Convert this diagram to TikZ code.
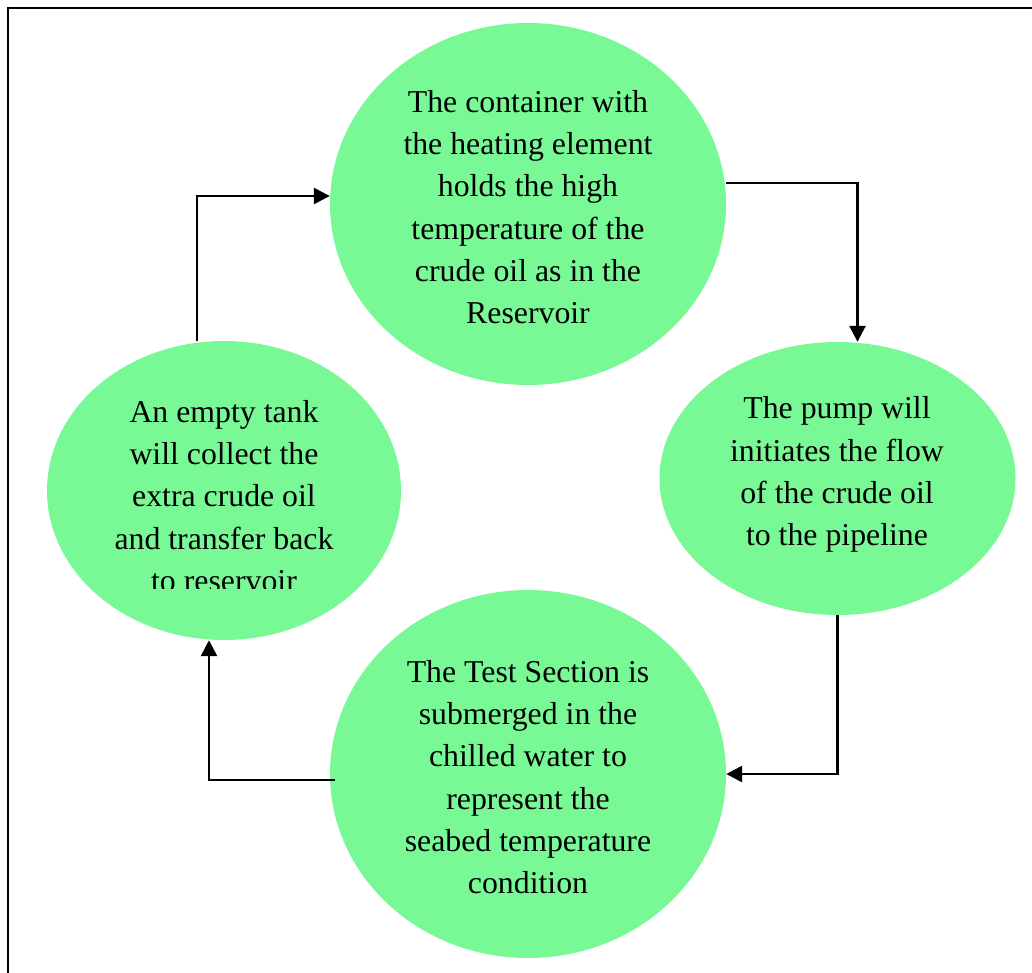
\documentclass[tikz,border=0pt]{standalone}
\usepackage{fontspec}
\setmainfont{Liberation Serif}
\usetikzlibrary{shapes.geometric,arrows.meta}
\definecolor{bubble}{RGB}{120,249,150}
\tikzset{
  bub/.style={ellipse, fill=bubble, draw=none, inner sep=0pt},
  txt/.style={align=center, font=\fontsize{31.8}{42.3}\selectfont, inner sep=0pt},
  arr/.style={line width=2.6pt, -{Triangle[length=16pt,width=16pt]}},
  frame/.style={line width=2.4pt}
}
\begin{document}
\begin{tikzpicture}[x=1pt,y=-1pt]
\useasboundingbox (0,0) rectangle (1032,972);
\draw[frame] (8,980) -- (8,8) -- (1040,8);
\node[bub, minimum width=396pt, minimum height=362pt] (T) at (528,204) {};
\node[bub, minimum width=356pt, minimum height=273pt] (R) at (837.5,478.5) {};
\node[bub, minimum width=396pt, minimum height=368pt] (B) at (528,774) {};
\node[bub, minimum width=354pt, minimum height=299pt] (L) at (224,490.5) {};
\node[txt] (Tt) at (528,207) {The container with\\the heating element\\holds the high\\temperature of the\\crude oil as in the\\Reservoir};
\node[txt] (Rt) at (837,474.5) {The pump will\\initiates the flow\\of the crude oil\\to the pipeline};
\node[txt] (Bt) at (528,777) {The Test Section is\\submerged in the\\chilled water to\\represent the\\seabed temperature\\condition};
\begin{scope}
\clip (40,300) rectangle (410,588);
\node[txt] (Lt) at (224,496) {An empty tank\\will collect the\\extra crude oil\\and transfer back\\to reservoir};
\end{scope}
\draw[arr] ([xshift=-27pt]L.north) |- ([yshift=8pt]T.west);
\draw[arr] ([yshift=21pt]T.east) -| ([xshift=20pt]R.north);
\draw[arr] (R.south) |- (B.east);
\draw[arr] ([shift={(5pt,-6pt)}]B.west) -| ([xshift=-15pt]L.south);
\end{tikzpicture}
\end{document}
